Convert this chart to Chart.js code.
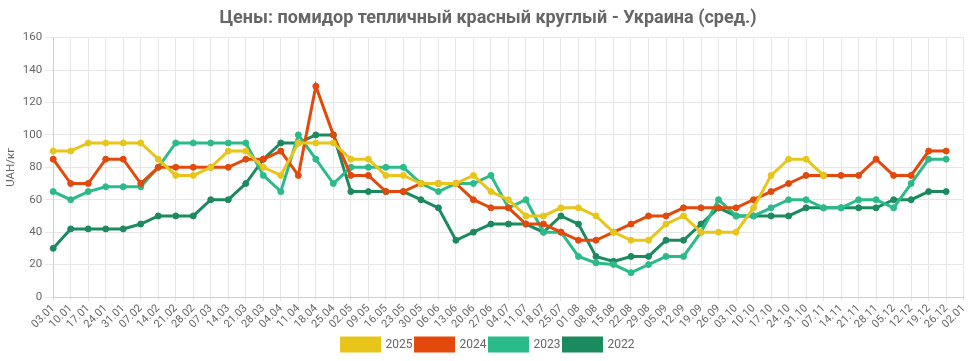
<!DOCTYPE html>
<html>
<head>
<meta charset="utf-8">
<script src="https://cdn.jsdelivr.net/npm/chart.js@4"></script>
<style>
  html, body { margin: 0; padding: 0; background: #fff; }
  #wrap { width: 974px; height: 361px; }
</style>
</head>
<body>
<div id="wrap"><canvas id="priceChart"></canvas></div>
<script>
const weeks = ['03.01','10.01','17.01','24.01','31.01','07.02','14.02','21.02','28.02','07.03','14.03','21.03','28.03',
  '04.04','11.04','18.04','25.04','02.05','09.05','16.05','23.05','30.05','06.06','13.06','20.06','27.06',
  '04.07','11.07','18.07','25.07','01.08','08.08','15.08','22.08','29.08','05.09','12.09','19.09','26.09',
  '03.10','10.10','17.10','24.10','31.10','07.11','14.11','21.11','28.11','05.12','12.12','19.12','26.12','02.01'];

const y2025 = [90,90,95,95,95,95,85,75,75,80,90,90,80,75,95,95,95,85,85,75,75,70,70,70,75,65,
  60,50,50,55,55,50,40,35,35,45,50,40,40,40,55,75,85,85,75];
const y2024 = [85,70,70,85,85,70,80,80,80,80,80,85,85,90,75,130,100,75,75,65,65,70,70,70,60,55,
  55,45,45,40,35,35,40,45,50,50,55,55,55,55,60,65,70,75,75,75,75,85,75,75,90,90];
const y2023 = [65,60,65,68,68,68,80,95,95,95,95,95,75,65,100,85,70,80,80,80,80,70,65,70,70,75,
  55,60,40,40,25,21,20,15,20,25,25,40,60,50,50,55,60,60,55,55,60,60,55,70,85,85];
const y2022 = [30,42,42,42,42,45,50,50,50,60,60,70,85,95,95,100,100,65,65,65,65,60,55,35,40,45,
  45,45,40,50,45,25,22,25,25,35,35,45,55,50,50,50,50,55,55,55,55,55,60,60,65,65];

const yTicks = [0,20,40,60,80,100,120,140,160];

function series(label, data, color) {
  return {
    label, data,
    borderColor: color,
    backgroundColor: color,
    pointBackgroundColor: color,
    pointBorderColor: color,
    borderWidth: 3,
    pointRadius: 3,
    pointBorderWidth: 1,
    tension: 0,
    fill: false
  };
}

Chart.defaults.font.family = 'Roboto, "Noto Sans", sans-serif';
Chart.defaults.color = '#666';

new Chart(document.getElementById('priceChart').getContext('2d'), {
  type: 'line',
  data: {
    labels: weeks,
    datasets: [
      series('2025', y2025, '#e8c51a'),
      series('2024', y2024, '#e2490b'),
      series('2023', y2023, '#2bbb8a'),
      series('2022', y2022, '#1b8a5e')
    ]
  },
  options: {
    responsive: true, maintainAspectRatio: false, animation: false,
    layout: { padding: { left: 2, right: 0, top: 0, bottom: 0 } },
    plugins: {
      title: {
        display: true,
        text: 'Цены: помидор тепличный красный круглый - Украина (сред.)',
        color: '#666',
        font: { size: 18, weight: 'bold' },
        padding: { top: 8, bottom: 8 }
      },
      legend: {
        position: 'bottom',
        labels: { boxWidth: 38, boxHeight: 13, font: { size: 12 }, color: '#666', padding: 3 }
      },
      tooltip: { enabled: false }
    },
    scales: {
      x: {
        grid: { color: '#e6e6e6', tickLength: 4 },
        afterFit: s => { s.height = 38; },
        ticks: { autoSkip: false, maxRotation: 45, minRotation: 45, font: { size: 11 }, color: '#666', padding: 1 }
      },
      y: {
        min: yTicks[0], max: yTicks[yTicks.length - 1],
        afterBuildTicks: axis => { axis.ticks = yTicks.map(v => ({ value: v })); },
        grid: { color: '#e6e6e6' },
        title: { display: true, text: 'UAH/кг', font: { size: 11.5 }, color: '#666', padding: 2 },
        ticks: { font: { size: 11.5 }, color: '#666' }
      }
    }
  }
});
</script>
</body>
</html>
